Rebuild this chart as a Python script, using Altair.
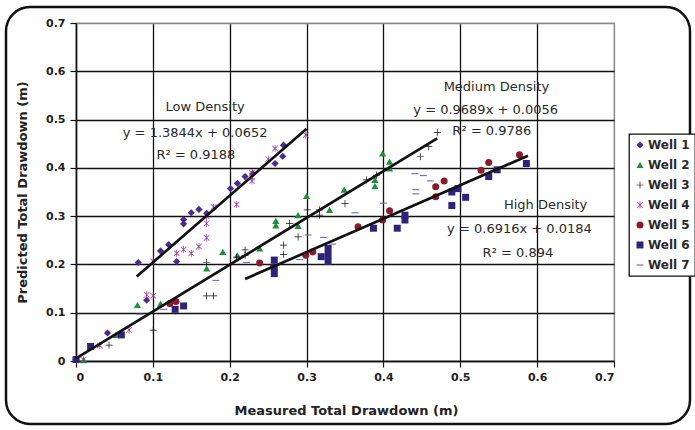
import altair as alt
import pandas as pd

# ---------------- data ----------------
wells = ["Well 1", "Well 2", "Well 3", "Well 4", "Well 5", "Well 6", "Well 7"]
colors = ["#4A2A8C", "#1F8F3A", "#111111", "#992C99", "#8B1A2A", "#2E2378", "#6A6AC8"]

well1_x = [0.0, 0.041, 0.081, 0.092, 0.110, 0.1205, 0.131, 0.140, 0.140, 0.150, 0.160, 0.170,
           0.201, 0.210, 0.220, 0.230, 0.259, 0.269, 0.270]
well1_y = [0.003, 0.058, 0.204, 0.126, 0.228, 0.241, 0.206, 0.284, 0.293, 0.307, 0.314, 0.306,
           0.357, 0.368, 0.382, 0.388, 0.409, 0.424, 0.447]

well2_x = [0.010, 0.052, 0.080, 0.110, 0.170, 0.191, 0.210, 0.239, 0.260, 0.260, 0.289, 0.289,
           0.300, 0.330, 0.349, 0.389, 0.389, 0.399, 0.408, 0.408]
well2_y = [0.002, 0.054, 0.116, 0.119, 0.192, 0.226, 0.219, 0.233, 0.281, 0.290, 0.280, 0.302,
           0.342, 0.313, 0.355, 0.362, 0.375, 0.430, 0.399, 0.413]

well3_x = [0.043, 0.1005, 0.170, 0.179, 0.170, 0.209, 0.220, 0.220, 0.270, 0.270, 0.278, 0.289,
           0.301, 0.317, 0.317, 0.350, 0.378, 0.391, 0.448, 0.459, 0.470]
well3_y = [0.033, 0.064, 0.135, 0.135, 0.204, 0.215, 0.219, 0.230, 0.221, 0.240, 0.285, 0.257,
           0.313, 0.302, 0.313, 0.326, 0.375, 0.385, 0.423, 0.444, 0.473]

well4_x = [0.0095, 0.031, 0.069, 0.092, 0.1005, 0.1005, 0.131, 0.140, 0.150, 0.160, 0.170, 0.170,
           0.170, 0.179, 0.209, 0.229, 0.229, 0.229, 0.250, 0.259, 0.299]
well4_y = [0.003, 0.032, 0.064, 0.137, 0.135, 0.206, 0.223, 0.231, 0.223, 0.237, 0.255, 0.285,
           0.300, 0.319, 0.324, 0.373, 0.380, 0.390, 0.418, 0.440, 0.468]

well5_x = [0.122, 0.130, 0.239, 0.257, 0.299, 0.308, 0.367, 0.399, 0.408, 0.468, 0.468, 0.479,
           0.527, 0.537, 0.577]
well5_y = [0.119, 0.123, 0.203, 0.195, 0.219, 0.226, 0.278, 0.292, 0.311, 0.340, 0.361, 0.373,
           0.395, 0.411, 0.427]

well6_x = [0.0, 0.019, 0.059, 0.129, 0.140, 0.258, 0.258, 0.258, 0.319, 0.328, 0.328, 0.328,
           0.387, 0.418, 0.428, 0.428, 0.489, 0.489, 0.497, 0.507, 0.537, 0.548, 0.586]
well6_y = [0.003, 0.030, 0.054, 0.107, 0.114, 0.181, 0.194, 0.209, 0.216, 0.206, 0.219, 0.233,
           0.275, 0.275, 0.292, 0.302, 0.322, 0.350, 0.357, 0.339, 0.382, 0.396, 0.409]

well7_x = [0.083, 0.114, 0.182, 0.222, 0.291, 0.302, 0.322, 0.334, 0.363, 0.400, 0.441, 0.452,
           0.461, 0.442, 0.442]
well7_y = [0.097, 0.107, 0.167, 0.204, 0.210, 0.261, 0.256, 0.242, 0.307, 0.327, 0.388, 0.384,
           0.373, 0.346, 0.355]

all_x = [well1_x, well2_x, well3_x, well4_x, well5_x, well6_x, well7_x]
all_y = [well1_y, well2_y, well3_y, well4_y, well5_y, well6_y, well7_y]

# trend lines (end points)
trend_names = ["Low Density", "Medium Density", "High Density"]
trend_x0 = [0.079, 0.0, 0.220]
trend_y0 = [0.175, 0.0056, 0.170]
trend_x1 = [0.300, 0.470, 0.588]
trend_y1 = [0.481, 0.461, 0.425]

# annotation texts
note_text = ["Low Density", "y = 1.3844x + 0.0652", "R\u00b2 = 0.9188",
             "Medium Density", "y = 0.9689x + 0.0056", "R\u00b2 = 0.9786",
             "High Density", "y = 0.6916x + 0.0184", "R\u00b2 = 0.894"]
note_x = [0.168, 0.155, 0.156, 0.547, 0.533, 0.541, 0.611, 0.577, 0.575]
note_y = [0.526, 0.472, 0.426, 0.567, 0.520, 0.476, 0.323, 0.273, 0.224]

ticks = [0.0, 0.1, 0.2, 0.3, 0.4, 0.5, 0.6, 0.7]

# ---------------- tables ----------------
rows = []
for name, xs, ys in zip(wells, all_x, all_y):
    for a, b in zip(xs, ys):
        rows.append({"well": name, "x": a, "y": b})
pts = pd.DataFrame(rows)

trows = []
for n, a0, b0, a1, b1 in zip(trend_names, trend_x0, trend_y0, trend_x1, trend_y1):
    trows.append({"trend": n, "x": a0, "y": b0})
    trows.append({"trend": n, "x": a1, "y": b1})
trend = pd.DataFrame(trows)

notes = pd.DataFrame({"text": note_text, "x": note_x, "y": note_y})

# ---------------- shapes ----------------
plus_path = "M-1,-0.1L1,-0.1L1,0.1L-1,0.1Z M-0.1,-1L0.1,-1L0.1,1L-0.1,1Z"
aster_path = ("M-0.1,-1L0.1,-1L0.1,1L-0.1,1Z "
              "M-0.85,-0.72L-0.72,-0.85L0.85,0.72L0.72,0.85Z "
              "M0.72,-0.85L0.85,-0.72L-0.72,0.85L-0.85,0.72Z")
dash_path = "M-1,-0.16L1,-0.16L1,0.16L-1,0.16Z"
shapes = ["diamond", "triangle-up", plus_path, aster_path, "circle", "square", dash_path]
sizes = [52, 48, 95, 85, 45, 55, 48]

FONT = "DejaVu Sans"

xscale = alt.Scale(domain=[0, 0.7], nice=False, zero=False)
yscale = alt.Scale(domain=[0, 0.7], nice=False, zero=False)

grid_col = alt.condition("datum.value >= 0.7", alt.value("#8a8a8a"), alt.value("#111111"))

xaxis = alt.Axis(values=ticks, format=".1~f", title="Measured Total Drawdown (m)",
                 grid=True, gridColor=grid_col, gridWidth=1.3,
                 domainColor="#111111", domainWidth=1.5, tickColor="#111111",
                 tickSize=6, tickWidth=1.2, labelPadding=4,
                 titleX=270, titleY=49, titleBaseline="middle")
yaxis = alt.Axis(values=ticks, format=".1~f", title="Predicted Total Drawdown (m)",
                 grid=True, gridColor=grid_col, gridWidth=1.3,
                 domainColor="#111111", domainWidth=1.5, tickColor="#111111",
                 tickSize=6, tickWidth=1.2, labelPadding=5,
                 titleX=-54, titleY=169, titleBaseline="middle")

points = alt.Chart(pts).mark_point(filled=True, opacity=1, strokeWidth=0).encode(
    x=alt.X("x:Q", scale=xscale, axis=xaxis),
    y=alt.Y("y:Q", scale=yscale, axis=yaxis),
    color=alt.Color("well:N", scale=alt.Scale(domain=wells, range=colors),
                    legend=alt.Legend(title=None, orient="none", legendX=553, legendY=111)),
    shape=alt.Shape("well:N", scale=alt.Scale(domain=wells, range=shapes),
                    legend=alt.Legend(title=None, orient="none", legendX=553, legendY=111)),
    size=alt.Size("well:N", scale=alt.Scale(domain=wells, range=sizes), legend=None),
)

lines = alt.Chart(trend).mark_line(color="#111111", strokeWidth=2.7).encode(
    x=alt.X("x:Q", scale=xscale),
    y=alt.Y("y:Q", scale=yscale),
    detail="trend:N",
)

text = alt.Chart(notes).mark_text(font=FONT, fontSize=13, color="#2a2a2a",
                                  align="center", baseline="middle").encode(
    x=alt.X("x:Q", scale=xscale),
    y=alt.Y("y:Q", scale=yscale),
    text="text:N",
)

frame = alt.Chart(alt.Data(values=[{"f": 1}])).mark_rect(
    fill="transparent", stroke="#111111", strokeWidth=2.5, cornerRadius=24
).encode(x=alt.value(-70), x2=alt.value(614), y=alt.value(-16), y2=alt.value(401))

chart = alt.layer(frame, points, lines, text).properties(
    width=538, height=338,
    autosize=alt.AutoSizeParams(type="none"),
    padding={"left": 76, "top": 23, "right": 81, "bottom": 69},
    background="white",
).configure_view(
    stroke="#8a8a8a", strokeWidth=1.2, fill="white"
).configure_axis(
    labelFont=FONT, labelFontSize=11, labelFontWeight="bold", labelColor="#222222",
    titleFont=FONT, titleFontSize=13, titleFontWeight="bold", titleColor="#222222",
).configure_legend(
    fillColor="white", strokeColor="#111111", strokeWidth=1.3, padding=5,
    labelFont=FONT, labelFontSize=12, labelFontWeight="bold", labelColor="#2a2a2a",
    symbolSize=32, symbolStrokeWidth=0, rowPadding=8, labelOffset=2, cornerRadius=0,
)

chart.save("out.html", embed_options={"renderer": "svg", "actions": False})
